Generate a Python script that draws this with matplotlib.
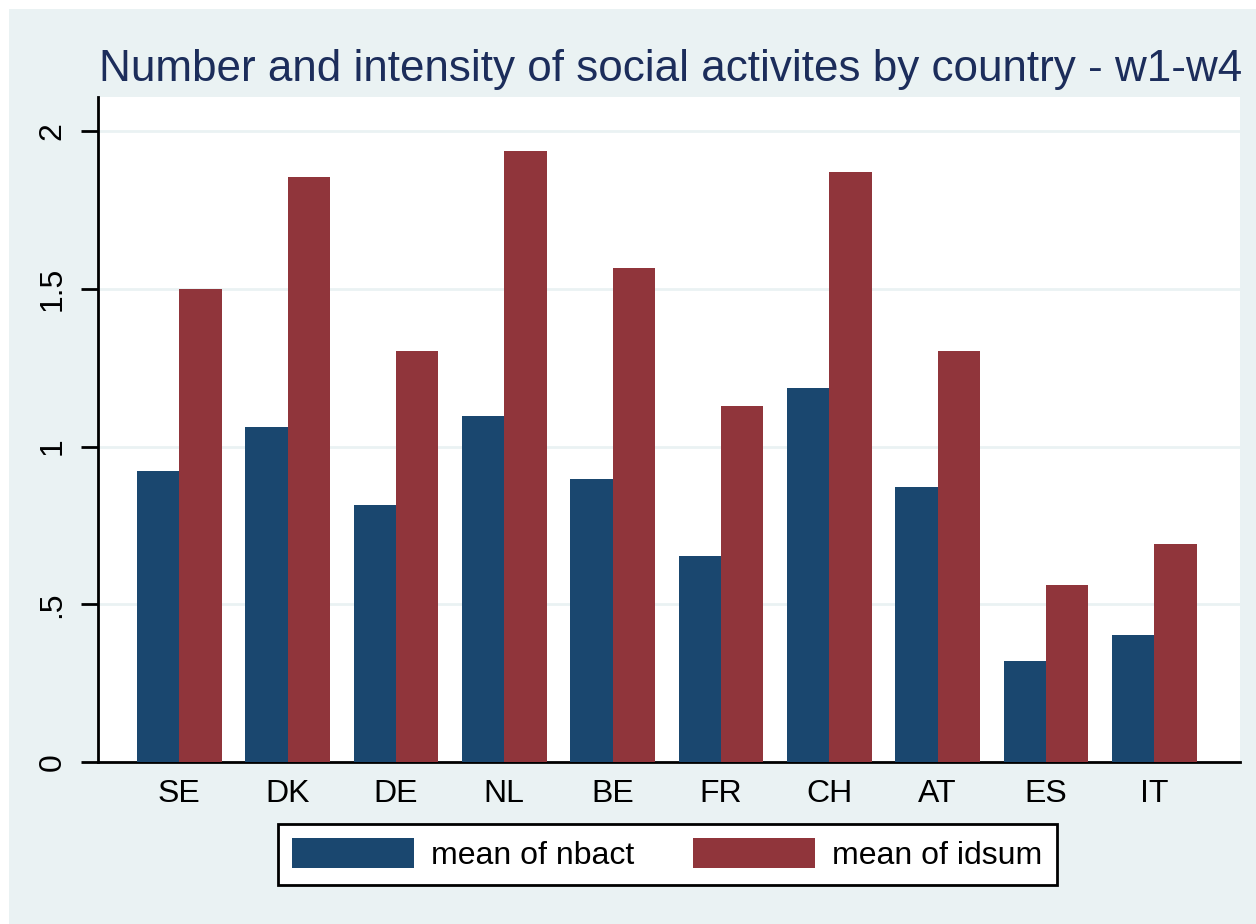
import matplotlib.pyplot as plt
from matplotlib.patches import Rectangle
import numpy as np

plt.rcParams['font.family'] = ['Liberation Sans', 'DejaVu Sans']

countries = ['SE', 'DK', 'DE', 'NL', 'BE', 'FR', 'CH', 'AT', 'ES', 'IT']
mean_nbact = [0.923, 1.062, 0.815, 1.097, 0.897, 0.652, 1.186, 0.872, 0.320, 0.403]
mean_idsum = [1.499, 1.854, 1.303, 1.937, 1.566, 1.128, 1.870, 1.303, 0.561, 0.691]
yticks = [0, 0.5, 1, 1.5, 2]
yticklabels = ['0', '.5', '1', '1.5', '2']

navy = '#1a476f'
maroon = '#90353b'
title_col = '#1c2d5b'
bg = '#eaf2f3'

W, H = 1256, 924
fig = plt.figure(figsize=(W / 100, H / 100), dpi=100)
fig.patch.set_facecolor('white')
# stata-ish outer graph region (thin white band on top/left)
fig.patches.append(Rectangle((9 / W, 0), 1 - 9 / W, 1 - 9 / H, transform=fig.transFigure,
                             facecolor=bg, edgecolor='none', zorder=-5))

ax = fig.add_axes([98 / W, 1 - 762 / H, (1240 - 98) / W, (762 - 97) / H])
ax.set_facecolor('white')

x = np.arange(len(countries))
bw = 0.39
ax.bar(x - bw / 2, mean_nbact, width=bw, color=navy, label='mean of nbact', zorder=3)
ax.bar(x + bw / 2, mean_idsum, width=bw, color=maroon, label='mean of idsum', zorder=3)

ax.set_xlim(-0.75, 9.79)
ax.set_ylim(0, 2.108)

ax.set_yticks(yticks)
ax.set_yticklabels(yticklabels, rotation=90, va='center', fontsize=23)
ax.set_xticks(x)
ax.set_xticklabels(countries, fontsize=23)
ax.tick_params(axis='x', length=0, pad=12)
ax.tick_params(axis='y', length=12, width=2, pad=10)
ax.grid(axis='y', color=bg, linewidth=2, zorder=1)

for side in ['top', 'right']:
    ax.spines[side].set_visible(False)
ax.spines['left'].set_linewidth(2)
ax.spines['bottom'].set_linewidth(2)

fig.text(98 / W + 0.001, 1 - 70 / H, 'Number and intensity of social activites by country - w1-w4',
         color=title_col, fontsize=31.7, va='center', ha='left')

leg = fig.legend(loc='lower left', ncol=2, mode='expand',
                 bbox_to_anchor=(278 / W, 1 - 885 / H, (1057 - 278) / W, 63 / H),
                 fontsize=23, handlelength=3.8, handleheight=1.05, handletextpad=0.55,
                 borderaxespad=0, borderpad=0.45, columnspacing=2.0,
                 fancybox=False, edgecolor='black', framealpha=1)
leg.get_frame().set_linewidth(2)

fig.savefig('out.png', dpi=100)
